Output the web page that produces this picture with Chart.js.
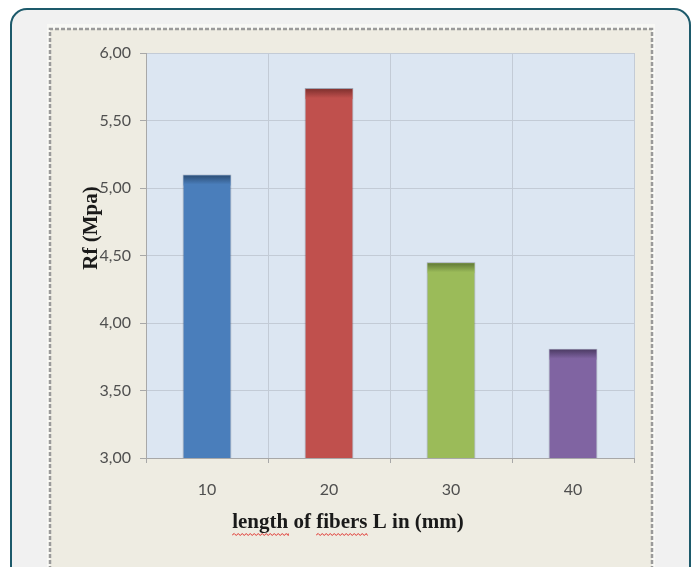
<!DOCTYPE html>
<html>
<head>
<meta charset="utf-8">
<script src="https://cdn.jsdelivr.net/npm/chart.js@4"></script>
<style>
  html, body { margin: 0; padding: 0; background: #ffffff; }
  #wrap { position: relative; width: 696px; height: 567px; }
</style>
</head>
<body>
<div id="wrap"><canvas id="c" width="696" height="567"></canvas></div>
<script>
// Flexural strength by fibre length
const categories = ['10', '20', '30', '40'];
const rfValues = [5.10, 5.74, 4.45, 3.81];
const yTickValues = [3.0, 3.5, 4.0, 4.5, 5.0, 5.5, 6.0];
const barColors = ['#4a7ebb', '#c0504d', '#9bbb59', '#8064a2'];
const barTopColors = ['#2a4a70', '#7a2e2c', '#5b7233', '#48385f'];
const xTitle = 'length of fibers L in (mm)';
const yTitle = 'Rf (Mpa)';
const misspelled = ['length', 'fibers'];

const TICK_FONT = { family: 'Lato, "Open Sans", sans-serif', size: 16 };
const TITLE_FONT = 'bold 21px "Liberation Serif", "DejaVu Serif", serif';

// Card, panel and plot-area backgrounds
const backdrop = {
  id: 'backdrop',
  beforeDraw(chart) {
    const ctx = chart.ctx;
    const a = chart.chartArea;
    ctx.save();
    // outer rounded card
    ctx.fillStyle = '#f1f1f1';
    ctx.strokeStyle = '#1d5a6b';
    ctx.lineWidth = 2;
    ctx.beginPath();
    ctx.roundRect(11, 9, 679, 620, 16);
    ctx.fill();
    ctx.stroke();
    // light frame behind the chart panel
    ctx.fillStyle = '#f8f8f5';
    ctx.fillRect(47, 24, 608, 560);
    // beige chart panel with dashed edge
    ctx.fillStyle = '#eeece2';
    ctx.fillRect(50, 29, 602, 560);
    ctx.strokeStyle = '#9a9a9a';
    ctx.lineWidth = 2.5;
    ctx.setLineDash([4, 2]);
    ctx.beginPath();
    ctx.moveTo(50, 600);
    ctx.lineTo(50, 29);
    ctx.lineTo(652, 29);
    ctx.lineTo(652, 600);
    ctx.stroke();
    ctx.setLineDash([]);
    // plot area
    ctx.fillStyle = '#dce6f2';
    ctx.fillRect(a.left, a.top, a.right - a.left, a.bottom - a.top);
    ctx.restore();
  }
};

// Darker shaded band along the top of each bar
const barShade = {
  id: 'barShade',
  afterDatasetsDraw(chart) {
    const ctx = chart.ctx;
    const meta = chart.getDatasetMeta(0);
    meta.data.forEach((el, i) => {
      const p = el.getProps(['x', 'y', 'width', 'base'], true);
      const left = p.x - p.width / 2 + 1;
      const w = p.width - 2;
      const h = 10;
      const g = ctx.createLinearGradient(0, p.y, 0, p.y + h);
      g.addColorStop(0, barTopColors[i]);
      g.addColorStop(1, barColors[i]);
      ctx.save();
      ctx.fillStyle = g;
      ctx.fillRect(left, p.y + 1, w, h);
      ctx.restore();
    });
  }
};

function wavy(ctx, x0, x1, y) {
  ctx.beginPath();
  let up = true;
  ctx.moveTo(x0, y);
  for (let x = x0; x < x1; x += 2) {
    ctx.lineTo(Math.min(x + 2, x1), up ? y - 1.5 : y + 0.5);
    up = !up;
  }
  ctx.stroke();
}

// Axis titles
const axisTitles = {
  id: 'axisTitles',
  afterDraw(chart) {
    const ctx = chart.ctx;
    ctx.save();
    ctx.font = TITLE_FONT;
    ctx.fillStyle = '#1a1a1a';
    ctx.textBaseline = 'middle';
    // x title
    const w = ctx.measureText(xTitle).width;
    const x0 = 348 - w / 2;
    ctx.textAlign = 'left';
    ctx.fillText(xTitle, x0, 523);
    // spell-check underline
    ctx.strokeStyle = '#e0302a';
    ctx.lineWidth = 1;
    misspelled.forEach(word => {
      const idx = xTitle.indexOf(word);
      const start = x0 + ctx.measureText(xTitle.slice(0, idx)).width;
      const len = ctx.measureText(word).width;
      wavy(ctx, start, start + len, 535);
    });
    // y title
    ctx.translate(92, 228);
    ctx.rotate(-Math.PI / 2);
    ctx.textAlign = 'center';
    ctx.fillText(yTitle, 0, 0);
    ctx.restore();
  }
};

new Chart(document.getElementById('c'), {
  type: 'bar',
  data: {
    labels: categories,
    datasets: [{
      data: rfValues,
      backgroundColor: barColors,
      borderColor: 'rgba(40,40,60,0.35)',
      borderWidth: 1,
      borderSkipped: 'bottom',
      barPercentage: 0.4,
      categoryPercentage: 1.0
    }]
  },
  options: {
    responsive: false,
    animation: false,
    layout: { padding: { left: 60, top: 53, right: 62, bottom: 49 } },
    plugins: { legend: { display: false }, tooltip: { enabled: false } },
    scales: {
      x: {
        grid: { offset: true, color: '#c3cbd6', lineWidth: 1, tickLength: 5, tickColor: '#a8a8a8' },
        border: { color: '#a8a8a8' },
        ticks: { font: TICK_FONT, color: '#4f4f4f', padding: 17 },
        afterFit(scale) { scale.height = 60; }
      },
      y: {
        min: 3,
        max: 6,
        afterBuildTicks(scale) { scale.ticks = yTickValues.map(v => ({ value: v })); },
        grid: { color: '#c3cbd6', lineWidth: 1, tickLength: 6, tickColor: '#a8a8a8' },
        border: { color: '#a8a8a8' },
        ticks: {
          font: TICK_FONT,
          color: '#4f4f4f',
          padding: 9,
          callback: v => Number(v).toFixed(2).replace('.', ',')
        },
        afterFit(scale) { scale.width = 86; }
      }
    }
  },
  plugins: [backdrop, barShade, axisTitles]
});
</script>
</body>
</html>
